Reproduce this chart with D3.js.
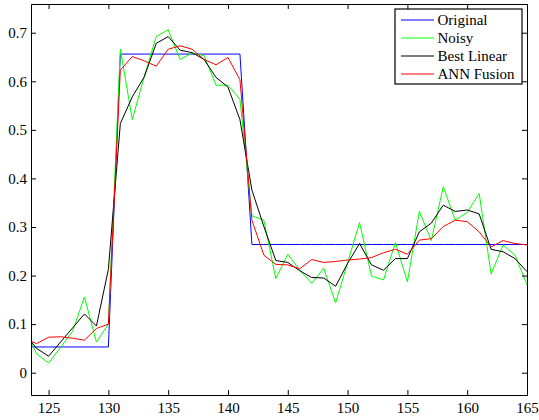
<!DOCTYPE html>
<html>
<head>
<meta charset="utf-8">
<script src="https://cdn.jsdelivr.net/npm/d3@7"></script>
<style>
  body { margin: 0; background: #fff; }
</style>
</head>
<body>
<div id="chart"></div>
<script>
const FONT = "'Liberation Serif', serif";

// Sample positions (x axis)
const samples = [123, 124, 125, 126, 127, 128, 129, 130, 131, 132, 133, 134, 135, 136, 137,
  138, 139, 140, 141, 142, 143, 144, 145, 146, 147, 148, 149, 150, 151, 152, 153, 154,
  155, 156, 157, 158, 159, 160, 161, 162, 163, 164, 165];

// Series values
const original = [0.053, 0.053, 0.053, 0.053, 0.053, 0.053, 0.053, 0.053,
  0.656, 0.656, 0.656, 0.656, 0.656, 0.656, 0.656, 0.656, 0.656, 0.656, 0.656,
  0.264, 0.264, 0.264, 0.264, 0.264, 0.264, 0.264, 0.264, 0.264, 0.264, 0.264, 0.264,
  0.264, 0.264, 0.264, 0.264, 0.264, 0.264, 0.264, 0.264, 0.264, 0.264, 0.264, 0.264];
const noisy = [0.093, 0.0385, 0.020, 0.052, 0.085, 0.156, 0.063, 0.100, 0.666, 0.521,
  0.610, 0.692, 0.706, 0.645, 0.658, 0.653, 0.592, 0.592, 0.563, 0.323, 0.314, 0.194,
  0.244, 0.211, 0.184, 0.215, 0.144, 0.226, 0.309, 0.199, 0.191, 0.268, 0.187, 0.332,
  0.272, 0.383, 0.314, 0.330, 0.369, 0.203, 0.263, 0.242, 0.181];
const bestLinear = [0.080, 0.050, 0.034, 0.063, 0.092, 0.121, 0.096, 0.213, 0.513, 0.568,
  0.609, 0.678, 0.692, 0.664, 0.659, 0.645, 0.608, 0.588, 0.521, 0.376, 0.301, 0.231,
  0.227, 0.210, 0.196, 0.195, 0.178, 0.225, 0.266, 0.222, 0.211, 0.235, 0.235, 0.290,
  0.308, 0.345, 0.332, 0.335, 0.327, 0.254, 0.249, 0.235, 0.208];
const annFusion = [0.070, 0.060, 0.073, 0.074, 0.071, 0.067, 0.091, 0.100, 0.623, 0.651,
  0.642, 0.631, 0.666, 0.673, 0.666, 0.645, 0.634, 0.649, 0.603, 0.314, 0.242, 0.223,
  0.222, 0.214, 0.233, 0.227, 0.229, 0.232, 0.234, 0.237, 0.247, 0.254, 0.244, 0.273,
  0.276, 0.301, 0.314, 0.311, 0.290, 0.259, 0.272, 0.266, 0.263];

const seriesNames = ["Original", "Noisy", "Best Linear", "ANN Fusion"];
const seriesColors = ["#0000ff", "#00ff00", "#000000", "#ff0000"];

const xTicks = [125, 130, 135, 140, 145, 150, 155, 160, 165];
const yTicks = [0, 0.1, 0.2, 0.3, 0.4, 0.5, 0.6, 0.7];

// Layout
const W = 539, H = 420;
const margin = { top: 4, right: 12, bottom: 25, left: 31 };
const width = W - margin.left - margin.right;
const height = H - margin.top - margin.bottom;

const svg = d3.select("#chart").append("svg")
  .attr("width", W)
  .attr("height", H);

const g = svg.append("g")
  .attr("transform", `translate(${margin.left},${margin.top})`);

const x = d3.scaleLinear().domain([123.53, 165]).range([0, width]);
const y = d3.scaleLinear().domain([-0.0459, 0.7591]).range([height, 0]);

// Clip to the axes box
g.append("clipPath").attr("id", "clip")
  .append("rect").attr("width", width).attr("height", height);

const series = [original, noisy, bestLinear, annFusion];
const line = d3.line()
  .x((d, i) => x(samples[i]))
  .y(d => y(d));

g.append("g").attr("clip-path", "url(#clip)")
  .selectAll("path")
  .data(series)
  .enter()
  .append("path")
  .attr("d", d => line(d))
  .attr("fill", "none")
  .attr("stroke", (d, i) => seriesColors[i])
  .attr("stroke-width", 1);

// Axes, MATLAB style: ticks pointing in, box on all sides
const styleAxis = sel => {
  sel.attr("font-family", null).attr("font-size", null);
  sel.select(".domain").attr("stroke", "#000").attr("stroke-width", 1);
  sel.selectAll(".tick line").attr("stroke", "#000");
  sel.selectAll("text")
    .style("font-family", FONT)
    .style("font-size", "15px")
    .attr("fill", "#000");
};

g.append("g")
  .attr("transform", `translate(0,${height})`)
  .call(d3.axisBottom(x).tickValues(xTicks).tickSizeInner(-5).tickSizeOuter(0).tickPadding(7.5))
  .call(styleAxis);

g.append("g")
  .call(d3.axisTop(x).tickValues(xTicks).tickSizeInner(-5).tickSizeOuter(0).tickFormat(""))
  .call(styleAxis);

g.append("g")
  .call(d3.axisLeft(y).tickValues(yTicks).tickSizeInner(-5).tickSizeOuter(0).tickPadding(4)
    .tickFormat(d => d === 0 ? "0" : d3.format(".1f")(d)))
  .call(styleAxis);

g.append("g")
  .attr("transform", `translate(${width},0)`)
  .call(d3.axisRight(y).tickValues(yTicks).tickSizeInner(-5).tickSizeOuter(0).tickFormat(""))
  .call(styleAxis);

// Legend
const legend = svg.append("g").attr("transform", "translate(395,9)");
legend.append("rect")
  .attr("width", 127)
  .attr("height", 75)
  .attr("fill", "#fff")
  .attr("stroke", "#000")
  .attr("stroke-width", 1.2);

const items = legend.selectAll(".item")
  .data(seriesNames)
  .enter()
  .append("g")
  .attr("transform", (d, i) => `translate(0,${11 + i * 18})`);

items.append("line")
  .attr("x1", 6).attr("x2", 39)
  .attr("stroke", (d, i) => seriesColors[i])
  .attr("stroke-width", 1);

items.append("text")
  .attr("x", 42.5)
  .attr("dy", "0.33em")
  .style("font-family", FONT)
  .style("font-size", "15px")
  .text(d => d);
</script>
</body>
</html>
